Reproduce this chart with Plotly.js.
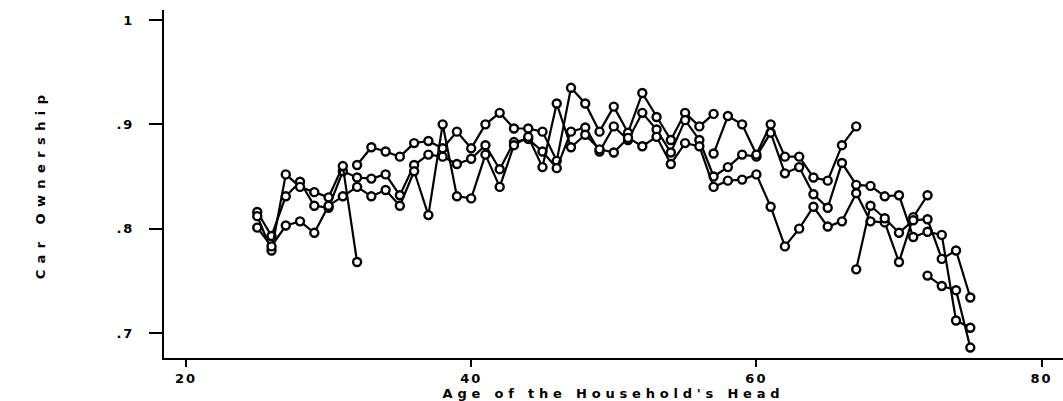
<!DOCTYPE html>
<html>
<head>
<meta charset="utf-8">
<script src="https://cdn.plot.ly/plotly-3.0.1.min.js"></script>
<style>
  html, body { margin: 0; padding: 0; background: #ffffff; }
  #chart { width: 1063px; height: 401px; }
  .xtitle { letter-spacing: 4.8px; }
  .ytitle { letter-spacing: 6.4px; }
  .xtick text, .ytick text { letter-spacing: 2px; }
</style>
</head>
<body>
<div id="chart"></div>
<script>
// ---- Data ----
const agesA = [32,33,34,35,36,37,38,39,40,41,42,43,44,45,46,47,48,49,50,51,52,53,54,55,56,57];
const ownA  = [.861,.878,.874,.869,.882,.884,.877,.893,.877,.900,.911,.896,.896,.893,.865,.935,.920,.893,.917,.892,.930,.907,.885,.911,.898,.910];

const agesB = [25,26,27,28,29,30,31,32,33,34,35,36,37,38,39,40,41,42,43,44,45,46,47,48,49,50,51,52,53,54,55,56,57,58,59,60,61,62,63,64,65,66,67,68,69,70,71,72,73,74,75];
const ownB  = [.816,.793,.831,.845,.822,.820,.855,.849,.848,.852,.832,.861,.871,.869,.862,.867,.880,.857,.883,.886,.874,.858,.893,.897,.874,.898,.885,.911,.895,.873,.904,.885,.850,.859,.871,.869,.892,.853,.859,.833,.820,.863,.842,.841,.831,.832,.792,.797,.794,.712,.705];

const agesC = [25,26,27,28,29,30,31,32];
const ownC  = [.812,.779,.852,.840,.835,.830,.860,.768];

const agesD = [25,26,27,28,29,30,31,32,33,34,35,36,37,38,39,40,41,42,43,44,45,46,47,48,49,50,51,52,53,54,55,56,57,58,59,60,61,62,63,64,65,66,67,68,69,70,71,72];
const ownD  = [.801,.783,.803,.807,.796,.822,.831,.840,.831,.837,.822,.855,.813,.900,.831,.829,.871,.840,.880,.888,.859,.920,.878,.890,.876,.873,.887,.879,.888,.862,.882,.879,.840,.846,.847,.852,.821,.783,.800,.821,.802,.807,.834,.807,.806,.768,.811,.832];

const agesE = [57,58,59,60,61,62,63,64,65,66,67];
const ownE  = [.872,.908,.900,.871,.900,.869,.869,.849,.846,.880,.898];

const agesF = [67,68,69,70,71,72,73,74,75];
const ownF  = [.761,.822,.810,.796,.808,.809,.771,.779,.734];

const agesG = [72,73,74,75];
const ownG  = [.755,.745,.741,.686];

const xTickVals = [20, 40, 60, 80];
const xTickText = ['20', '40', '60', '80'];
const yTickVals = [0.7, 0.8, 0.9, 1.0];
const yTickText = ['.7', '.8', '.9', '1'];

const seriesList = [
  [agesA, ownA], [agesB, ownB], [agesC, ownC], [agesD, ownD],
  [agesE, ownE], [agesF, ownF], [agesG, ownG]
];

const traces = seriesList.map(([x, y]) => ({
  type: 'scatter',
  mode: 'lines+markers',
  x: x,
  y: y,
  line: { color: '#000000', width: 2.2 },
  marker: { symbol: 'circle', size: 8, color: '#ffffff', line: { color: '#000000', width: 2.4 } },
  showlegend: false,
  hoverinfo: 'x+y'
}));

const fontFam = 'DejaVu Sans, Arial, sans-serif';

const layout = {
  width: 1063,
  height: 401,
  margin: { l: 164, r: 0, t: 10, b: 43 },
  paper_bgcolor: '#ffffff',
  plot_bgcolor: '#ffffff',
  font: { family: fontFam, color: '#000000', size: 13 },
  xaxis: {
    range: [18.46, 81.5],
    tickvals: xTickVals,
    ticktext: xTickText,
    ticks: 'outside',
    ticklen: 7,
    tickwidth: 2,
    tickcolor: '#000000',
    ticklabelstandoff: 0,
    showline: true,
    linecolor: '#000000',
    linewidth: 2,
    showgrid: false,
    zeroline: false,
    tickfont: { family: fontFam, size: 13, weight: 'bold' },
    title: { text: "Age of the Household's Head", font: { family: fontFam, size: 13, weight: 'bold' }, standoff: 3 }
  },
  yaxis: {
    range: [0.676, 1.0096],
    tickvals: yTickVals,
    ticktext: yTickText,
    ticks: 'outside',
    ticklen: 13,
    tickwidth: 2,
    tickcolor: '#000000',
    ticklabelstandoff: 12,
    showline: true,
    linecolor: '#000000',
    linewidth: 2,
    showgrid: false,
    zeroline: false,
    tickfont: { family: fontFam, size: 13, weight: 'bold' },
    title: { text: 'Car Ownership', font: { family: fontFam, size: 13, weight: 'bold' }, standoff: 68 }
  }
};

Plotly.newPlot('chart', traces, layout, { displayModeBar: false, staticPlot: true });
</script>
</body>
</html>
